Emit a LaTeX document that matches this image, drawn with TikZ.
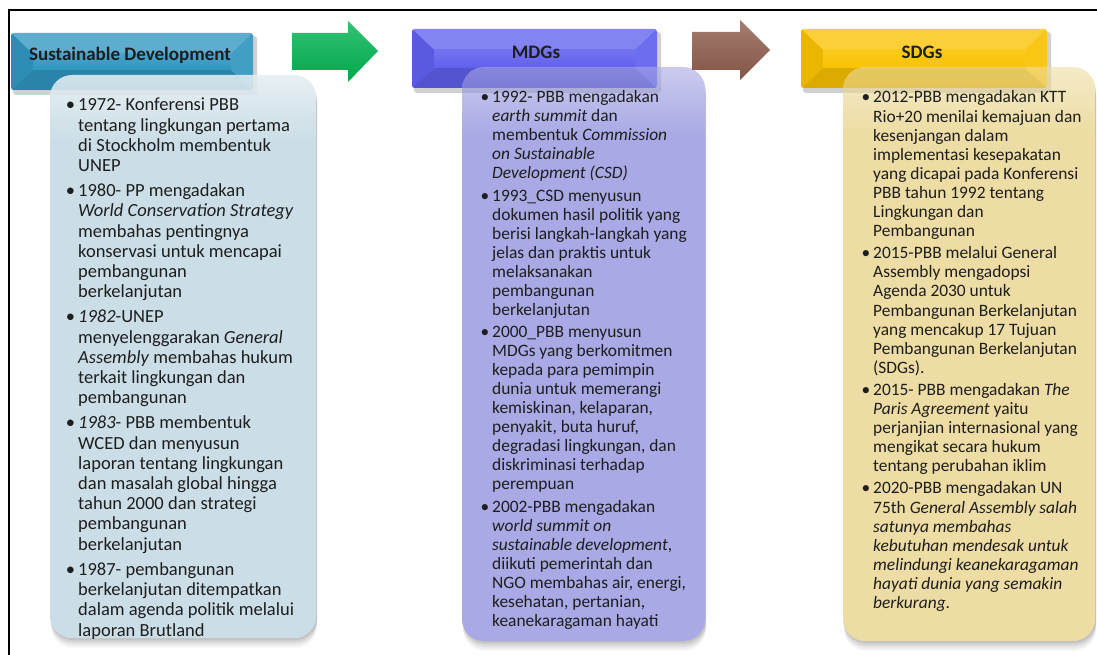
\documentclass[tikz,border=0pt]{standalone}
\usepackage{fontspec}
\setmainfont{Carlito}
\definecolor{sdHead}{RGB}{48,150,192}
\definecolor{mdHead}{RGB}{96,96,238}
\definecolor{sgHead}{RGB}{250,194,0}
\definecolor{sdC}{RGB}{196,217,227}
\definecolor{mdC}{RGB}{112,112,213}
\definecolor{sgC}{RGB}{225,198,102}
\definecolor{arGreen}{RGB}{0,178,80}
\definecolor{arBrown}{RGB}{142,92,76}
\definecolor{txt}{RGB}{30,30,30}
\pgfdeclareverticalshading{sdshade}{100bp}{color(0bp)=(sdC); color(25bp)=(sdC); color(69bp)=(sdC); color(75bp)=(sdC!45!white); color(100bp)=(sdC!45!white)}
\pgfdeclareverticalshading{mdshade}{100bp}{color(0bp)=(mdC); color(25bp)=(mdC); color(69bp)=(mdC); color(75bp)=(mdC!60!white); color(100bp)=(mdC!60!white)}
\pgfdeclareverticalshading{sgshade}{100bp}{color(0bp)=(sgC); color(25bp)=(sgC); color(69bp)=(sgC); color(75bp)=(sgC!60!white); color(100bp)=(sgC!60!white)}
\newcommand{\bevelhead}[5]{%
  \fill[black,opacity=0.18,rounded corners=3] (#1+2,#2+3) rectangle (#3+4,#4+5);
  \begin{scope}
    \clip[rounded corners=3] (#1,#2) rectangle (#3,#4);
    \fill[#5] (#1,#2) rectangle (#3,#4);
    \fill[#5!78!white] (#1,#2) -- (#3,#2) -- (#3-22,#2+21) -- (#1+22,#2+21) -- cycle;
    \fill[#5!88!black] (#1,#4) -- (#3,#4) -- (#3-22,#4-20) -- (#1+22,#4-20) -- cycle;
    \fill[#5!94!black] (#1,#2) -- (#1+22,#2+21) -- (#1+22,#4-20) -- (#1,#4) -- cycle;
    \fill[#5!92!white] (#3,#2) -- (#3-22,#2+21) -- (#3-22,#4-20) -- (#3,#4) -- cycle;
    \shade[top color=#5!88!white, bottom color=#5] (#1+22,#2+21) rectangle (#3-22,#4-20);
  \end{scope}}
\newcommand{\boxshadow}[4]{%
  \begin{scope}[even odd rule, rounded corners=22]
    \clip (-10,-10) rectangle (1107,665) (#1,#2) rectangle (#3,#4);
    \foreach \d/\o in {2/0.07,4/0.06,6/0.05,8/0.04,10/0.03}
      \fill[black,opacity=\o] (#1+1,#2+\d) rectangle (#3+1,#4+\d);
  \end{scope}}
\newcommand{\bul}{\leavevmode\llap{\textbullet\hspace{3pt}}}
\tikzset{
  headtext/.style={font=\bfseries\fontsize{19}{22}\selectfont, text=txt, anchor=base, inner sep=0},
  bodytext/.style={anchor=base west, inner sep=0, text=txt},
}
\begin{document}
\begin{tikzpicture}[x=1pt,y=-1pt]
\useasboundingbox (0,0) rectangle (1097,655);
\fill[white] (0,0) rectangle (1097,655);
% frame
\draw[line width=1.5pt,black] (9,655) -- (9,10) -- (1097,10);

% ---------- column 1
\bevelhead{11}{33}{253}{90}{sdHead}
\boxshadow{50}{75}{316}{638}
\shade[shading=sdshade, opacity=0.88, rounded corners=22] (50,75) rectangle (316,638);
\node[headtext] (h1) at (130,61) {Sustainable Development};
\node[bodytext] (t1) at (78,111) {\parbox[t]{240pt}{\fontsize{18.5}{20.2}\selectfont\raggedright
\bul 1972- Konferensi PBB\\
tentang lingkungan pertama\\
di Stockholm membentuk\\
UNEP\\[5pt]
\bul 1980- PP mengadakan\\
\textit{World Conservation Strategy}\\
membahas pentingnya\\
konservasi untuk mencapai\\
pembangunan\\
berkelanjutan\\[5pt]
\bul \textit{1982}-UNEP\\
menyelenggarakan \textit{General}\\
\textit{Assembly} membahas hukum\\
terkait lingkungan dan\\
pembangunan\\[5pt]
\bul \textit{1983}- PBB membentuk\\
WCED dan menyusun\\
laporan tentang lingkungan\\
dan masalah global hingga\\
tahun 2000 dan strategi\\
pembangunan\\
berkelanjutan\\[5pt]
\bul 1987- pembangunan\\
berkelanjutan ditempatkan\\
dalam agenda politik melalui\\
laporan Brutland}};

% ---------- arrow 1
\shade[top color=arGreen!80!white, middle color=arGreen, bottom color=arGreen!94!black]
  (292,33) -- (348,33) -- (348,21) -- (378,51) -- (348,82) -- (348,70) -- (292,70) -- cycle;

% ---------- column 2
\bevelhead{412}{29}{657}{88}{mdHead}
\boxshadow{462}{67}{705}{641}
\shade[shading=mdshade, opacity=0.6, rounded corners=22] (462,67) rectangle (705,641);
\node[headtext] (h2) at (536,59) {MDGs};
\node[bodytext] (t2) at (492,103) {\parbox[t]{215pt}{\fontsize{17.4}{19}\selectfont\raggedright
\bul 1992- PBB mengadakan\\
\textit{earth summit} dan\\
membentuk \textit{Commission}\\
\textit{on Sustainable}\\
\textit{Development (CSD)}\\[3.5pt]
\bul 1993\_CSD menyusun\\
dokumen hasil politik yang\\
berisi langkah-langkah yang\\
jelas dan praktis untuk\\
melaksanakan\\
pembangunan\\
berkelanjutan\\[3.5pt]
\bul 2000\_PBB menyusun\\
MDGs yang berkomitmen\\
kepada para pemimpin\\
dunia untuk memerangi\\
kemiskinan, kelaparan,\\
penyakit, buta huruf,\\
degradasi lingkungan, dan\\
diskriminasi terhadap\\
perempuan\\[3.5pt]
\bul 2002-PBB mengadakan\\
\textit{world summit on}\\
\textit{sustainable development},\\
diikuti pemerintah dan\\
NGO membahas air, energi,\\
kesehatan, pertanian,\\
keanekaragaman hayati}};

% ---------- arrow 2
\shade[top color=arBrown!80!white, middle color=arBrown, bottom color=arBrown!92!black]
  (692,32) -- (740,32) -- (740,20) -- (770,50) -- (740,80) -- (740,70) -- (692,70) -- cycle;

% ---------- column 3
\bevelhead{801}{29}{1047}{88}{sgHead}
\boxshadow{843}{67}{1095}{641}
\shade[shading=sgshade, opacity=0.6, rounded corners=22] (843,67) rectangle (1095,641);
\node[headtext] (h3) at (922,59) {SDGs};
\node[bodytext] (t3) at (873,103) {\parbox[t]{222pt}{\fontsize{17.4}{19.1}\selectfont\raggedright
\bul 2012-PBB mengadakan KTT\\
Rio+20 menilai kemajuan dan\\
kesenjangan dalam\\
implementasi kesepakatan\\
yang dicapai pada Konferensi\\
PBB tahun 1992 tentang\\
Lingkungan dan\\
Pembangunan\\[3pt]
\bul 2015-PBB melalui General\\
Assembly mengadopsi\\
Agenda 2030 untuk\\
Pembangunan Berkelanjutan\\
yang mencakup 17 Tujuan\\
Pembangunan Berkelanjutan\\
(SDGs).\\[3pt]
\bul 2015- PBB mengadakan \textit{The}\\
\textit{Paris Agreement} yaitu\\
perjanjian internasional yang\\
mengikat secara hukum\\
tentang perubahan iklim\\[3pt]
\bul 2020-PBB mengadakan UN\\
75th \textit{General Assembly salah}\\
\textit{satunya membahas}\\
\textit{kebutuhan mendesak untuk}\\
\textit{melindungi keanekaragaman}\\
\textit{hayati dunia yang semakin}\\
\textit{berkurang}.}};
\end{tikzpicture}
\end{document}
